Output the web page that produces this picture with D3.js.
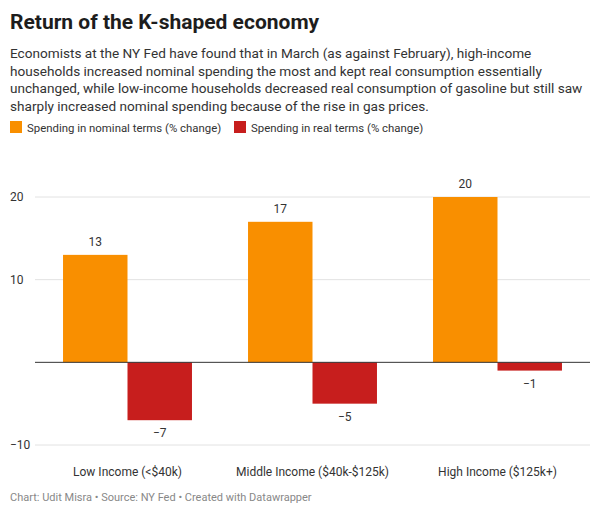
<!DOCTYPE html>
<html><head><meta charset="utf-8">
<script src="https://cdn.jsdelivr.net/npm/d3@7"></script>
<style>
body{margin:0;background:#fff;font-family:Roboto,sans-serif;}
</style></head><body>
<svg id="chart" width="600" height="514"></svg>
<script>
var categories = ['Low Income (<$40k)', 'Middle Income ($40k-$125k)', 'High Income ($125k+)'];
var nominal = [13, 17, 20];
var real = [-7, -5, -1];
var seriesNames = ['Spending in nominal terms (% change)', 'Spending in real terms (% change)'];
var colors = ['#f98f00', '#c71e1d'];
var ticks = [-10, 10, 20];

var svg = d3.select('#chart');

svg.append('text').attr('x', 10).attr('y', 29)
    .style('font-size', '21px').style('font-weight', 'bold').style('fill', '#1d1d1d')
    .text('Return of the K-shaped economy');

var sub = ['Economists at the NY Fed have found that in March (as against February), high-income',
  'households increased nominal spending the most and kept real consumption essentially',
  'unchanged, while low-income households decreased real consumption of gasoline but still saw',
  'sharply increased nominal spending because of the rise in gas prices.'];
sub.forEach(function(s, i){
  svg.append('text').attr('x', 10).attr('y', 58 + i*17.5)
      .style('font-size', '13.6px').style('fill', '#333').text(s);
});

// legend
var lx = [10, 234];
seriesNames.forEach(function(n, i){
  svg.append('rect').attr('x', lx[i]).attr('y', 121).attr('width', 12).attr('height', 12).attr('fill', colors[i]);
  svg.append('text').attr('x', lx[i] + 17).attr('y', 132)
      .style('font-size', '11.4px').style('fill', '#333').text(n);
});

var y = d3.scaleLinear().domain([-10, 20]).range([445, 197]);
var x0 = d3.scaleBand().domain(categories).range([35, 590]).paddingInner(0.303).paddingOuter(0.1515);
var x1 = d3.scaleBand().domain([0, 1]).range([0, x0.bandwidth()]);

// grid
ticks.forEach(function(t){
  svg.append('line').attr('x1', 35).attr('x2', 590).attr('y1', y(t)).attr('y2', y(t))
      .attr('stroke', '#e2e2e2');
  svg.append('text').attr('x', 10).attr('y', y(t) + 4)
      .style('font-size', '12px').style('fill', '#333')
      .text(t < 0 ? '\u2212' + Math.abs(t) : t);
});

var groups = svg.selectAll('.grp').data(categories).enter().append('g')
    .attr('transform', function(d){ return 'translate(' + x0(d) + ',0)'; });

[nominal, real].forEach(function(vals, s){
  groups.append('rect')
      .attr('x', x1(s)).attr('width', x1.bandwidth())
      .attr('y', function(d, i){ return y(Math.max(0, vals[i])); })
      .attr('height', function(d, i){ return Math.abs(y(vals[i]) - y(0)); })
      .attr('fill', colors[s]);
  groups.append('text')
      .attr('x', x1(s) + x1.bandwidth()/2)
      .attr('y', function(d, i){ return vals[i] >= 0 ? y(vals[i]) - 9 : y(vals[i]) + 17; })
      .attr('text-anchor', 'middle').style('font-size', '12px').style('fill', '#333')
      .text(function(d, i){ return vals[i] < 0 ? '\u2212' + Math.abs(vals[i]) : vals[i]; });
});

svg.append('line').attr('x1', 35).attr('x2', 590).attr('y1', y(0)).attr('y2', y(0))
    .attr('stroke', '#333').attr('stroke-width', 1);

var xAxis = svg.append('g').attr('transform', 'translate(0,' + 467 + ')')
    .call(d3.axisBottom(x0).tickSize(0).tickPadding(0));
xAxis.select('.domain').remove();
xAxis.selectAll('text').style('font-size', '12px').style('fill', '#333').style('font-family', 'Roboto,sans-serif');

svg.append('text').attr('x', 10).attr('y', 501)
    .style('font-size', '11px').style('fill', '#888')
    .text('Chart: Udit Misra \u2022 Source: NY Fed \u2022 Created with Datawrapper');
</script>
</body></html>
